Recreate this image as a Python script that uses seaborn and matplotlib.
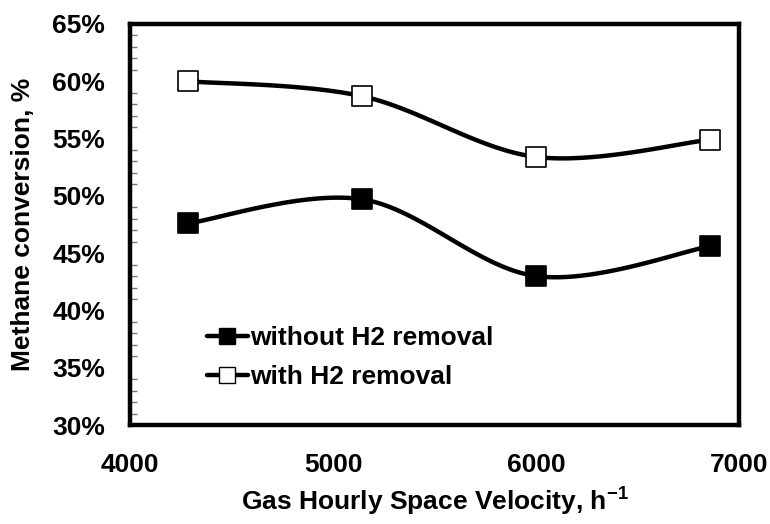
import numpy as np
import pandas as pd
import matplotlib
matplotlib.use('Agg')
import matplotlib.pyplot as plt
from matplotlib.ticker import PercentFormatter, MultipleLocator
from matplotlib.lines import Line2D
import seaborn as sns

# data
ghsv = [4286, 5143, 6000, 6857]
without_h2 = [47.6, 49.7, 43.0, 45.6]
with_h2 = [60.0, 58.7, 53.4, 54.9]
series_names = ['without H2 removal', 'with H2 removal']


def smooth_curve(x, y, n=40):
    """Excel-style smoothed line (Catmull-Rom as cubic Bezier)"""
    p = np.column_stack([x, y]).astype(float)
    ext = np.vstack([p[0], p, p[-1]])
    out = []
    t = np.linspace(0, 1, n)[:, None]
    for i in range(1, len(ext) - 2):
        p0, p1, p2, p3 = ext[i - 1], ext[i], ext[i + 1], ext[i + 2]
        c1 = p1 + (p2 - p0) / 6
        c2 = p2 - (p3 - p1) / 6
        seg = ((1 - t) ** 3) * p1 + 3 * ((1 - t) ** 2) * t * c1 \
            + 3 * (1 - t) * t ** 2 * c2 + t ** 3 * p2
        out.append(seg if i == 1 else seg[1:])
    out = np.vstack(out)
    return out[:, 0], out[:, 1]


sns.set_style('white')
plt.rcParams['font.family'] = ['Liberation Sans', 'DejaVu Sans']
plt.rcParams['font.weight'] = 'bold'
plt.rcParams['text.color'] = 'black'
plt.rcParams['axes.labelcolor'] = 'black'
plt.rcParams['mathtext.fontset'] = 'custom'
plt.rcParams['mathtext.rm'] = 'Liberation Sans:bold'
plt.rcParams['mathtext.bf'] = 'Liberation Sans:bold'

FS = 19

fig = plt.figure(figsize=(7.7, 5.24), dpi=100)
ax = fig.add_axes([0.1688, 0.1889, 0.7909, 0.7653])

df = pd.DataFrame({'ghsv': ghsv * 2,
                   'conv': without_h2 + with_h2,
                   'series': [series_names[0]] * 4 + [series_names[1]] * 4})

faces = {series_names[0]: 'black', series_names[1]: 'white'}
for name in series_names:
    sub = df[df['series'] == name]
    sx, sy = smooth_curve(sub['ghsv'].values, sub['conv'].values)
    sns.lineplot(x=sx, y=sy, sort=False, color='black', lw=3.2,
                 ax=ax, legend=False)
    sns.scatterplot(data=sub, x='ghsv', y='conv', marker='s', s=210,
                    color=faces[name], edgecolor='black', linewidth=1.2,
                    ax=ax, legend=False, zorder=5)

ax.set_xlim(4000, 7000)
ax.set_ylim(30, 65)
ax.xaxis.set_major_locator(MultipleLocator(1000))
ax.yaxis.set_major_locator(MultipleLocator(5))
ax.yaxis.set_minor_locator(MultipleLocator(1))
ax.yaxis.set_major_formatter(PercentFormatter(decimals=0))

ax.tick_params(axis='both', which='major', labelsize=FS, colors='#888888',
               labelcolor='black', direction='out', width=1)
ax.tick_params(axis='y', which='major', length=7, pad=11)
ax.tick_params(axis='x', which='major', length=5, pad=15)
ax.tick_params(axis='y', which='minor', left=True, length=5,
               direction='in', color='#777777', width=1)
for lbl in ax.get_xticklabels() + ax.get_yticklabels():
    lbl.set_fontweight('bold')

for sp in ax.spines.values():
    sp.set_visible(True)
    sp.set_color('black')
    sp.set_linewidth(3.2)

ax.set_xlabel(r'Gas Hourly Space Velocity, h$^{-1}$', fontsize=FS,
              fontweight='bold', labelpad=5)
ax.set_ylabel('Methane conversion, %', fontsize=FS, fontweight='bold',
              labelpad=12)

handles = [Line2D([], [], color='black', lw=3.2, marker='s', markersize=11,
                  markerfacecolor=faces[n], markeredgecolor='black')
           for n in series_names]
ax.legend(handles, series_names, loc='upper left',
          bbox_to_anchor=(0.126, 0.247), frameon=False,
          handlelength=1.55, handletextpad=0.08, labelspacing=0.58,
          borderaxespad=0, borderpad=0,
          prop={'weight': 'bold', 'size': FS})

plt.savefig('out.png', dpi=100)
plt.close()
